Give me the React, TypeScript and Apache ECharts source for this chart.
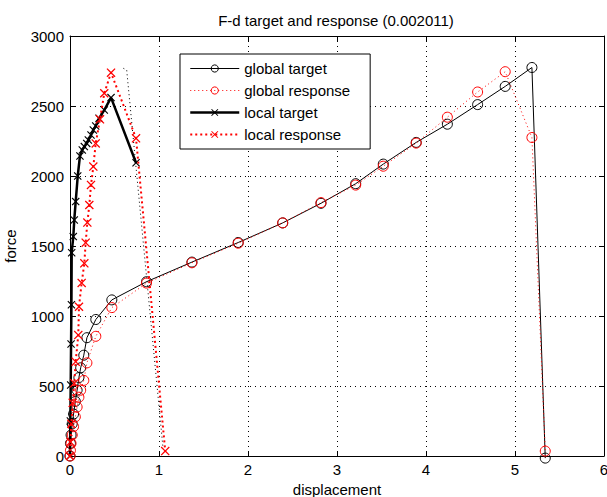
import React, { useEffect, useRef } from "react";
import * as echarts from "echarts";

const titleText = "F-d target and response (0.002011)";
const xTickValues = [0, 1, 2, 3, 4, 5, 6];
const yTickValues = [0, 500, 1000, 1500, 2000, 2500, 3000];

const globalTargetD = [0, 0.005, 0.012, 0.025, 0.04, 0.06, 0.08, 0.1, 0.12, 0.155, 0.19, 0.29, 0.47, 0.86, 1.37, 1.89, 2.39, 2.82, 3.21, 3.52, 3.89, 4.24, 4.58, 4.89, 5.19, 5.34];
const globalTargetF = [0, 90, 150, 230, 300, 390, 470, 560, 630, 720, 845, 975, 1115, 1245, 1385, 1525, 1665, 1805, 1945, 2085, 2240, 2370, 2510, 2640, 2775, -15];

const globalResponseD = [0, 0.005, 0.012, 0.025, 0.04, 0.06, 0.08, 0.1, 0.12, 0.155, 0.19, 0.29, 0.47, 0.86, 1.37, 1.89, 2.39, 2.82, 3.21, 3.52, 3.89, 4.24, 4.58, 4.89, 5.19, 5.34];
const globalResponseF = [0, 40, 90, 150, 210, 280, 350, 420, 470, 540, 665, 855, 1060, 1235, 1380, 1520, 1665, 1810, 1935, 2070, 2235, 2420, 2600, 2745, 2275, 35];

const localTargetD = [0, 0.004, 0.008, 0.012, 0.016, 0.019, 0.037, 0.048, 0.064, 0.087, 0.112, 0.138, 0.161, 0.188, 0.206, 0.236, 0.262, 0.289, 0.326, 0.385, 0.461, 0.742];
const localTargetF = [0, 250, 507, 800, 1080, 1452, 1567, 1686, 1817, 2000, 2143, 2186, 2210, 2233, 2257, 2293, 2329, 2357, 2412, 2471, 2560, 2095];

const localResponseD = [0, 0.005, 0.015, 0.03, 0.048, 0.064, 0.093, 0.101, 0.131, 0.161, 0.176, 0.195, 0.217, 0.236, 0.262, 0.289, 0.337, 0.385, 0.461, 0.742, 1.07];
const localResponseF = [0, 100, 230, 380, 520, 674, 864, 1066, 1236, 1376, 1524, 1667, 1793, 1936, 2067, 2233, 2405, 2591, 2738, 2269, 35];

const extraD = [0.6, 0.637, 1.045];
const extraF = [2769, 2757, 57];

const zip = (a: number[], b: number[]) => a.map((v, i) => [v, b[i]]);

const FONT = "Liberation Sans, Arial, Helvetica, sans-serif";
const X_MARK = "path://M1,0 L5,4 L9,0 L10,1 L6,5 L10,9 L9,10 L5,6 L1,10 L0,9 L4,5 L0,1 Z";
const RED = "#ff0000";

export default function App() {
  const ref = useRef<HTMLDivElement>(null);
  useEffect(() => {
    if (!ref.current) return;
    const chart = echarts.init(ref.current, null, { renderer: "svg" });
    const dotted = { color: "#000", width: 1, type: [1, 4] as any };
    const axisCommon = {
      type: "value",
      axisLine: { show: true, onZero: false, lineStyle: { color: "#000", width: 1 } },
      axisTick: { show: true, inside: true, length: 5, lineStyle: { color: "#000" } },
    };
    chart.setOption({
      animation: false,
      backgroundColor: "#fff",
      graphic: [
        {
          type: "text",
          x: 336,
          y: 20,
          style: {
            text: titleText,
            fill: "#000",
            font: `15px ${FONT}`,
            textAlign: "center",
            textVerticalAlign: "middle",
            align: "center",
            verticalAlign: "middle",
          },
        },
      ],
      grid: { left: 70, right: 3, top: 36, bottom: 41, containLabel: false, outerBoundsMode: "none" },
      legend: {
        orient: "vertical",
        left: 180,
        top: 54,
        data: [
          {
            name: "global target",
            itemStyle: { color: "transparent", borderColor: "#000", borderWidth: 1 },
            lineStyle: { color: "#000", width: 1, type: "solid" },
          },
          {
            name: "global response",
            itemStyle: { color: "transparent", borderColor: RED, borderWidth: 1 },
            lineStyle: { color: RED, width: 1, type: [1, 3] },
          },
          {
            name: "local target",
            itemStyle: { color: "#000", borderWidth: 0 },
            lineStyle: { color: "#000", width: 2.5, type: "solid" },
          },
          {
            name: "local response",
            itemStyle: { color: RED, borderWidth: 0 },
            lineStyle: { color: RED, width: 2, type: [2, 3] },
          },
        ],
        backgroundColor: "#fff",
        borderColor: "#000",
        borderWidth: 1,
        borderRadius: 0,
        padding: [7, 20, 7, 9],
        itemWidth: 49,
        itemHeight: 9,
        itemGap: 7,
        selectedMode: false,
        textStyle: { fontFamily: FONT, fontSize: 15, color: "#000" },
      },
      xAxis: [
        {
          ...axisCommon,
          min: xTickValues[0],
          max: xTickValues[xTickValues.length - 1],
          interval: 1,
          position: "bottom",
          axisLabel: { color: "#000", fontSize: 15, fontFamily: FONT, margin: 6 },
          splitLine: { show: true, lineStyle: dotted },
          name: "displacement",
          nameLocation: "middle",
          nameGap: 24,
          nameTextStyle: { color: "#000", fontSize: 15, fontFamily: FONT },
        },
        {
          ...axisCommon,
          min: xTickValues[0],
          max: xTickValues[xTickValues.length - 1],
          interval: 1,
          position: "top",
          axisLabel: { show: false },
          splitLine: { show: false },
        },
      ],
      yAxis: [
        {
          ...axisCommon,
          min: yTickValues[0],
          max: yTickValues[yTickValues.length - 1],
          interval: 500,
          position: "left",
          axisLabel: {
            color: "#000",
            fontSize: 15,
            fontFamily: FONT,
            margin: 6,
            formatter: (v: number) => String(v),
          },
          splitLine: { show: true, lineStyle: dotted },
          name: "force",
          nameLocation: "middle",
          nameGap: 52,
          nameTextStyle: { color: "#000", fontSize: 15, fontFamily: FONT },
        },
        {
          ...axisCommon,
          min: yTickValues[0],
          max: yTickValues[yTickValues.length - 1],
          interval: 500,
          position: "right",
          axisLabel: { show: false },
          splitLine: { show: false },
        },
      ],
      series: [
        {
          type: "line",
          name: "extra",
          data: zip(extraD, extraF),
          symbol: "none",
          silent: true,
          clip: false,
          lineStyle: { color: "#000", width: 1, type: [1, 3] },
          z: 1,
        },
        {
          type: "line",
          name: "global target",
          data: zip(globalTargetD, globalTargetF),
          symbol: "circle",
          symbolSize: 10,
          clip: false,
          itemStyle: { color: "transparent", borderColor: "#000", borderWidth: 1 },
          lineStyle: { color: "#000", width: 1 },
          z: 2,
        },
        {
          type: "line",
          name: "global response",
          data: zip(globalResponseD, globalResponseF),
          symbol: "circle",
          symbolSize: 10,
          clip: false,
          itemStyle: { color: "transparent", borderColor: RED, borderWidth: 1 },
          lineStyle: { color: RED, width: 1, type: [1, 3] },
          z: 3,
        },
        {
          type: "line",
          name: "local target",
          data: zip(localTargetD, localTargetF),
          symbol: X_MARK,
          symbolSize: 8,
          clip: false,
          itemStyle: { color: "#000" },
          lineStyle: { color: "#000", width: 2.5 },
          z: 4,
        },
        {
          type: "line",
          name: "local response",
          data: zip(localResponseD, localResponseF),
          symbol: X_MARK,
          symbolSize: 9,
          clip: false,
          itemStyle: { color: RED },
          lineStyle: { color: RED, width: 2, type: [2, 3] },
          z: 5,
        },
      ],
    });
    return () => chart.dispose();
  }, []);
  return (
    <div
      ref={ref}
      style={{ position: "absolute", left: 0, top: 0, width: 607, height: 497 }}
    />
  );
}
